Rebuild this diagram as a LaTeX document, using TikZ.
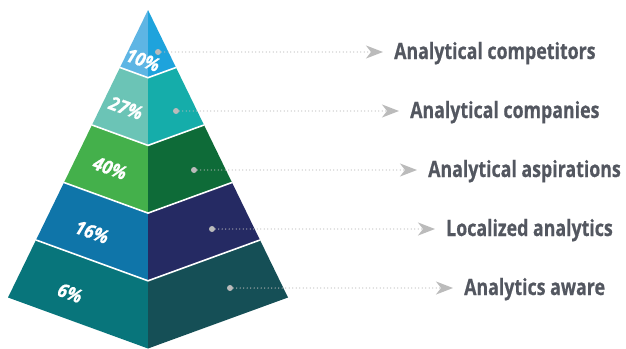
\documentclass[tikz,border=0pt]{standalone}
\usepackage{fontspec}
\usetikzlibrary{arrows.meta}
\newfontfamily\labelfont[FakeStretch=0.79, FakeBold=0.5]{Open Sans}
\newfontfamily\pctfont[FakeStretch=0.92, FakeBold=0.6]{Open Sans}

\definecolor{labelgray}{HTML}{535760}
\definecolor{dotgray}{HTML}{BBBBBB}
\definecolor{aL}{HTML}{5EB5E4}
\definecolor{aR}{HTML}{1EA3DC}
\definecolor{bL}{HTML}{6BC4B6}
\definecolor{bR}{HTML}{15ADAA}
\definecolor{cL}{HTML}{44B04B}
\definecolor{cR}{HTML}{0E6B38}
\definecolor{dL}{HTML}{0F75A9}
\definecolor{dR}{HTML}{252A63}
\definecolor{eL}{HTML}{08757B}
\definecolor{eR}{HTML}{154F56}

\tikzset{
  sep/.style={draw=white, line width=1.6pt, line join=miter},
  pct/.style={text=white, rotate=-20, inner sep=0pt,
    font=\pctfont\bfseries\itshape\fontsize{19}{19}\selectfont},
  dotn/.style={circle, fill=dotgray, inner sep=0pt, minimum size=6pt},
  lbl/.style={anchor=base west, inner sep=0pt, text=labelgray,
    font=\labelfont\bfseries\fontsize{22.5}{22.5}\selectfont},
  link/.style={draw=dotgray, line width=1.4pt, dash pattern=on 0pt off 3.5pt,
    line cap=round, shorten >=11pt,
    -{Stealth[length=17pt, width=13pt, inset=5pt, fill=dotgray]}},
}

\begin{document}
\begin{tikzpicture}[x=1pt, y=-1pt]
  \fill[white] (0,0) rectangle (626,348);
  \useasboundingbox (0,0) rectangle (626,348);

  % edge and centre points of each level of the pyramid
  \foreach \k in {0,...,5}{
    \coordinate (L\k) at ({148-28*\k},{10+57.5*\k});
    \coordinate (R\k) at ({148+28*\k},{10+57.5*\k});
    \coordinate (C\k) at (148,{10+67.7*\k});
  }

  % faces, top band to bottom band
  \foreach \k/\lc/\rc in {1/aL/aR, 2/bL/bR, 3/cL/cR, 4/dL/dR, 5/eL/eR}{
    \pgfmathtruncatemacro{\j}{\k-1}
    \fill[\lc] (L\j) -- (C\j) -- (C\k) -- (L\k) -- cycle;
    \fill[\rc] (R\j) -- (C\j) -- (C\k) -- (R\k) -- cycle;
  }

  % white seams between bands
  \foreach \k in {1,...,4}{
    \draw[sep] (L\k) -- (C\k) -- (R\k);
  }

  % percentages
  \node[pct] (p1) at (143,60)  {10\%};
  \node[pct] (p2) at (126,108) {27\%};
  \node[pct] (p3) at (110,168) {40\%};
  \node[pct] (p4) at (92,232)  {16\%};
  \node[pct] (p5) at (70,293)  {6\%};

  % markers
  \node[dotn] (d1) at (158,52)  {};
  \node[dotn] (d2) at (176,111) {};
  \node[dotn] (d3) at (194,170) {};
  \node[dotn] (d4) at (212,229) {};
  \node[dotn] (d5) at (230,288) {};

  % labels
  \node[lbl] (l1) at (394,59)  {Analytical competitors};
  \node[lbl] (l2) at (410,118) {Analytical companies};
  \node[lbl] (l3) at (428,177) {Analytical aspirations};
  \node[lbl] (l4) at (446,236) {Localized analytics};
  \node[lbl] (l5) at (464,295) {Analytics aware};

  % leaders
  \foreach \i in {1,...,5}{
    \draw[link] (d\i) -- (d\i -| l\i.west);
  }
\end{tikzpicture}
\end{document}
